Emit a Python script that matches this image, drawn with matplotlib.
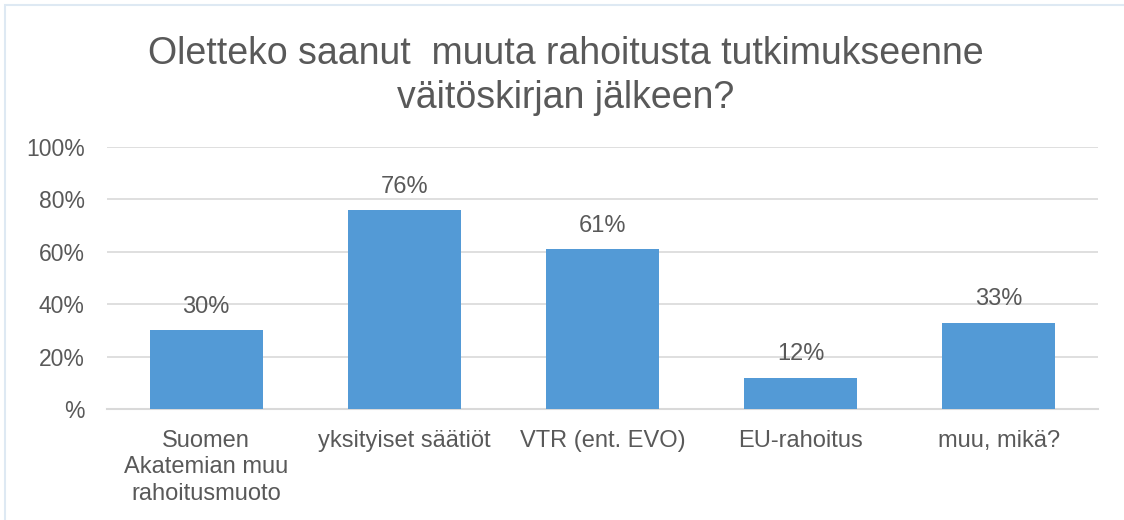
import matplotlib
matplotlib.use("Agg")
import matplotlib.pyplot as plt
from matplotlib.patches import Rectangle

categories = ["Suomen\nAkatemian muu\nrahoitusmuoto", "yksityiset säätiöt", "VTR (ent. EVO)", "EU-rahoitus", "muu, mikä?"]
values = [30, 76, 61, 12, 33]
yticks = [0, 20, 40, 60, 80, 100]
ytick_labels = ["%", "20%", "40%", "60%", "80%", "100%"]
title = "Oletteko saanut  muuta rahoitusta tutkimukseenne\nväitöskirjan jälkeen?"

plt.rcParams['font.family'] = ['Liberation Sans', 'DejaVu Sans']
text_color = "#595959"
bar_color = "#539AD6"

fig = plt.figure(figsize=(11.24, 5.2), dpi=100)
W, H = 1124, 520
ax = fig.add_axes([107 / W, 1 - 409 / H, (1098 - 107) / W, (409 - 147) / H])

x = list(range(len(categories)))
ax.bar(x, values, width=0.57, color=bar_color, zorder=3)
for xi, v in zip(x, values):
    ax.annotate(f"{v}%", xy=(xi, v), xytext=(0, 12.5), textcoords="offset points",
                ha="center", va="baseline", fontsize=17, color=text_color)

ax.set_xlim(-0.5, len(categories) - 0.5)
ax.set_ylim(0, 100)
ax.set_yticks(yticks)
ax.set_yticklabels(ytick_labels, fontsize=16.5, color=text_color)
ax.set_xticks(x)
ax.set_xticklabels(categories, fontsize=17, color=text_color, linespacing=1.27, va="top")
ax.tick_params(axis="both", length=0)
ax.tick_params(axis="x", pad=15)
ax.tick_params(axis="y", pad=16)
ax.grid(axis="y", color="#D9D9D9", linewidth=1.2, zorder=0)
for s in ["top", "right", "left"]:
    ax.spines[s].set_visible(False)
ax.spines["bottom"].set_color("#D9D9D9")
ax.spines["bottom"].set_linewidth(1.5)

fig.text(566 / W, 1 - 76 / H, title, ha="center", va="center", fontsize=27,
         color=text_color, linespacing=1.25)

fig.patches.append(Rectangle((5 / W, -0.01), 1.1, 1 - 5 / H + 0.01, transform=fig.transFigure,
                             fill=False, edgecolor="#DEE9F3", linewidth=1.5))

fig.savefig("out.png", dpi=100)
